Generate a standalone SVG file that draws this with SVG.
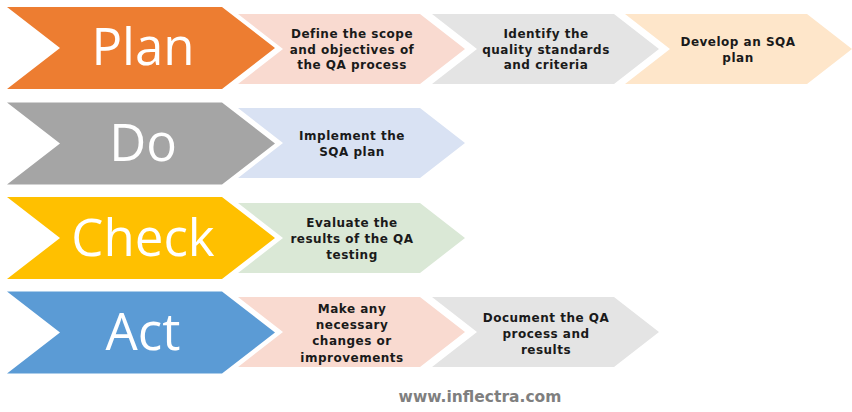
<svg xmlns="http://www.w3.org/2000/svg" xmlns:xlink="http://www.w3.org/1999/xlink" width="852" height="412" viewBox="0 0 852 412">
<style>
.big{font-family:"Open Sans","Liberation Sans",sans-serif;font-weight:400;font-size:51px;fill:#ffffff;text-anchor:middle}
.lbl{font-family:"DejaVu Sans","Liberation Sans",sans-serif;font-weight:bold;font-size:12px;letter-spacing:0.5px;fill:#1a1a1a;text-anchor:middle}
.foot{font-family:"DejaVu Sans","Liberation Sans",sans-serif;font-weight:bold;font-size:15.5px;fill:#7f7f7f;text-anchor:middle}
</style>
<defs>
<polygon id="bigc" points="0,0 215,0 268,41 215,82 0,82 53,41"/>
<polygon id="smallc" points="0,0 182,0 227,35 182,70 0,70 45,35"/>
</defs>
<rect width="852" height="412" fill="#ffffff"/>
<g id="plan">
<use xlink:href="#bigc" x="7" y="7" fill="#ED7D31"/>
<text class="big" x="143" y="65">Plan</text>
</g>
<g id="define">
<use xlink:href="#smallc" x="238" y="14" fill="#F9DAD0"/>
<text class="lbl" x="352" y="37.5">Define the scope</text>
<text class="lbl" x="352" y="53.5">and objectives of</text>
<text class="lbl" x="352" y="69">the QA process</text>
</g>
<g id="identify">
<use xlink:href="#smallc" x="432" y="14" fill="#E4E4E4"/>
<text class="lbl" x="546" y="37.5">Identify the</text>
<text class="lbl" x="546" y="53.5">quality standards</text>
<text class="lbl" x="546" y="69">and criteria</text>
</g>
<g id="develop">
<use xlink:href="#smallc" x="625" y="14" fill="#FEE6CA"/>
<text class="lbl" x="738" y="46">Develop an SQA</text>
<text class="lbl" x="738" y="61.5">plan</text>
</g>
<g id="do">
<use xlink:href="#bigc" x="7" y="102.5" fill="#A5A5A5"/>
<text class="big" x="143" y="161">Do</text>
</g>
<g id="implement">
<use xlink:href="#smallc" x="238" y="108" fill="#D9E2F3"/>
<text class="lbl" x="352" y="139.5">Implement the</text>
<text class="lbl" x="352" y="156">SQA plan</text>
</g>
<g id="check">
<use xlink:href="#bigc" x="7" y="197" fill="#FFC000"/>
<text class="big" x="143" y="256">Check</text>
</g>
<g id="evaluate">
<use xlink:href="#smallc" x="238" y="203" fill="#DAE8D6"/>
<text class="lbl" x="352" y="226.5">Evaluate the</text>
<text class="lbl" x="352" y="242.5">results of the QA</text>
<text class="lbl" x="352" y="258.5">testing</text>
</g>
<g id="act">
<use xlink:href="#bigc" x="7" y="291.5" fill="#5B9BD5"/>
<text class="big" x="143" y="350">Act</text>
</g>
<g id="make">
<use xlink:href="#smallc" x="238" y="297" fill="#F9DAD0"/>
<text class="lbl" x="352" y="312.5">Make any</text>
<text class="lbl" x="352" y="329">necessary</text>
<text class="lbl" x="352" y="345">changes or</text>
<text class="lbl" x="352" y="361.5">improvements</text>
</g>
<g id="document">
<use xlink:href="#smallc" x="432" y="297" fill="#E4E4E4"/>
<text class="lbl" x="546" y="321.5">Document the QA</text>
<text class="lbl" x="546" y="337.5">process and</text>
<text class="lbl" x="546" y="353.5">results</text>
</g>
<g id="connectors"></g>
<text class="foot" x="480" y="402">www.inflectra.com</text>
</svg>
